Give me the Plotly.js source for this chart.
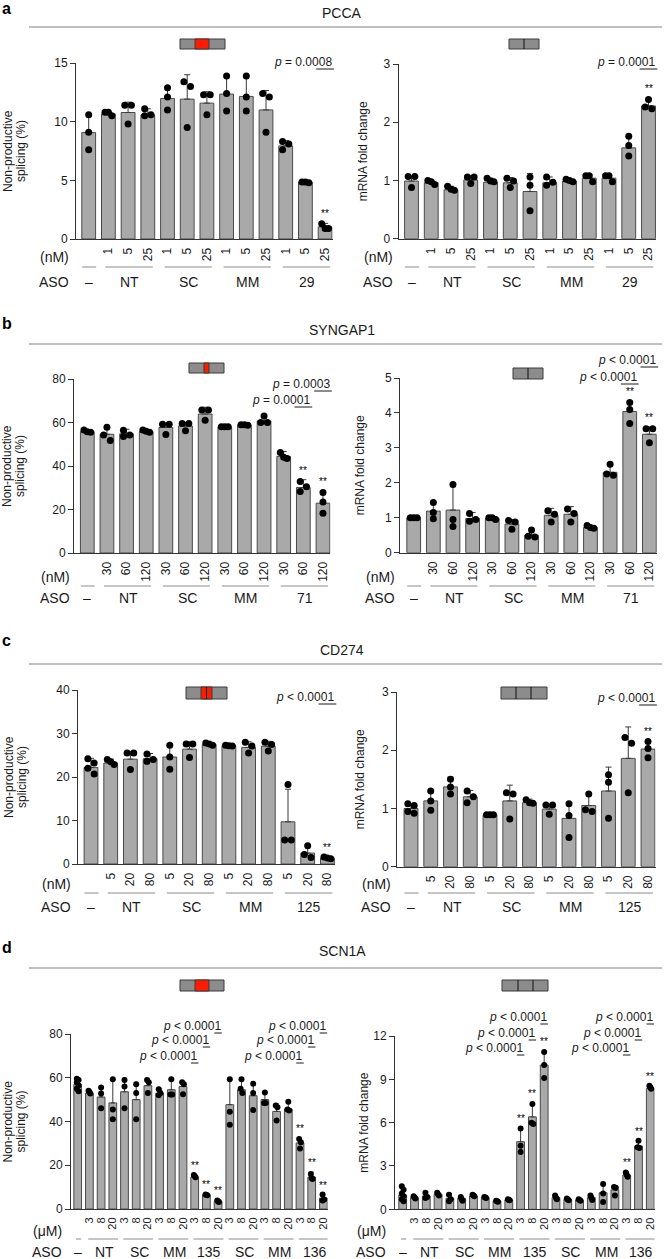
<!DOCTYPE html>
<html><head><meta charset="utf-8">
<script src="https://cdn.plot.ly/plotly-3.0.1.min.js"></script>
<style>html,body{margin:0;padding:0;background:#fff}</style>
</head><body><div id="chart" style="width:664px;height:1259px"></div>
<script>
// ---------------- DATA ----------------
const genes = ['PCCA', 'SYNGAP1', 'CD274', 'SCN1A'];
const sectionLetters = ['a', 'b', 'c', 'd'];
const spliceTitle = ['Non-productive', 'splicing (%)'];
const mrnaTitle = ['mRNA fold change'];
const unitNM = '(nM)';
const unitUM = '(\u03bcM)';

const PCCA_conc = ['', '1', '5', '25', '1', '5', '25', '1', '5', '25', '1', '5', '25'];
const PCCA_groups = ['NT', 'SC', 'MM', '29'];
const PCCA_splice_mean = [9.07, 10.66, 10.78, 10.58, 11.98, 11.92, 11.58, 12.35, 12.15, 11.0, 7.93, 4.85, 1.03];
const PCCA_splice_sd = [1.53, 0.14, 0.88, 0.52, 0.97, 2.08, 0.97, 1.55, 1.75, 1.66, 0.45, 0.05, 0.3];
const PCCA_splice_pts = [[10.6,9.1,7.6],[10.8,10.8,10.5],[11.4,11.4,9.8],[11.1,10.6,10.5],[12.9,12.1,11.0],[13.4,13.0,9.5],[12.3,12.3,10.6],[13.9,12.4,10.9],[13.9,12.1,10.9],[12.4,12.1,9.1],[8.3,8.1,7.6],[4.85,4.8,4.85],[1.3,0.9,0.9]];
const PCCA_splice_p = ['<i>p</i> = 0.0008'];
const PCCA_mrna_mean = [0.99, 0.96, 0.84, 1.01, 0.97, 0.96, 0.81, 0.96, 0.99, 1.04, 1.04, 1.56, 2.28];
const PCCA_mrna_sd = [0.08, 0.04, 0.06, 0.07, 0.07, 0.09, 0.31, 0.1, 0.03, 0.06, 0.06, 0.2, 0.13];
const PCCA_mrna_pts = [[1.07,1.07,0.88],[1.0,0.98,0.93],[0.9,0.85,0.83],[1.06,1.06,0.95],[1.04,0.99,0.98],[1.04,0.99,0.88],[1.06,0.92,0.48],[1.06,0.97,0.92],[1.02,1.0,0.98],[1.08,1.08,0.98],[1.08,1.08,0.98],[1.76,1.6,1.42],[2.39,2.26,2.23]];
const PCCA_mrna_p = ['<i>p</i> = 0.0001'];

const SYNGAP1_conc = ['', '30', '60', '120', '30', '60', '120', '30', '60', '120', '30', '60', '120'];
const SYNGAP1_groups = ['NT', 'SC', 'MM', '71'];
const SYNGAP1_splice_mean = [55.8, 54.6, 54.8, 55.8, 57.7, 58.4, 63.9, 58.0, 58.9, 60.7, 44.4, 30.1, 22.9];
const SYNGAP1_splice_sd = [0.7, 3.2, 2.1, 0.8, 2.0, 1.7, 3.1, 0.3, 0.3, 2.8, 2.3, 3.6, 5.4];
const SYNGAP1_splice_pts = [[56.5,55.5,55.8],[57.8,54.3,51.7],[56.4,54.3,53.6],[56.6,56.0,55.5],[59.2,59.2,54.5],[59.5,59.5,56.2],[65.8,65.8,61.0],[58,58,58],[59,59,58.7],[63,60,60],[46.2,44,43.5],[32.9,30.5,28.3],[27.8,23.5,18.3]];
const SYNGAP1_splice_p = ['<i>p</i> = 0.0003', '<i>p</i> = 0.0001'];
const SYNGAP1_mrna_mean = [1.0, 1.19, 1.22, 0.98, 0.98, 0.82, 0.5, 1.07, 1.1, 0.72, 2.3, 4.04, 3.39];
const SYNGAP1_mrna_sd = [0.0, 0.25, 0.76, 0.17, 0.02, 0.13, 0.17, 0.2, 0.22, 0.06, 0.27, 0.3, 0.21];
const SYNGAP1_mrna_pts = [[1,1,1],[1.44,1.15,0.97],[1.95,0.95,0.75],[1.12,0.95,0.9],[1.0,1.0,0.95],[0.92,0.88,0.67],[0.65,0.47,0.45],[1.2,1.1,0.88],[1.25,1.12,0.88],[0.78,0.72,0.7],[2.53,2.25,2.22],[4.3,4.1,3.7],[3.55,3.55,3.15]];
const SYNGAP1_mrna_p = ['<i>p</i> &lt; 0.0001', '<i>p</i> &lt; 0.0001'];

const CD274_conc = ['', '5', '20', '80', '5', '20', '80', '5', '20', '80', '5', '20', '80'];
const CD274_groups = ['NT', 'SC', 'MM', '125'];
const CD274_splice_mean = [22.2, 23.2, 24.1, 24.2, 24.6, 26.4, 27.5, 27.2, 26.8, 27.1, 9.7, 2.5, 1.4];
const CD274_splice_sd = [2.1, 0.9, 1.8, 1.2, 3.0, 1.7, 0.3, 0.2, 1.3, 1.1, 7.5, 1.9, 0.2];
const CD274_splice_pts = [[24.2,23.2,22.0,20.7],[24.0,23.5,22.9],[25.5,25.5,21.7],[25.3,24.0,23.6],[27.3,24.6,21.8],[27.6,27.6,24.5],[27.8,27.6,27.3],[27.3,27.2,27.1],[28,27.1,25.5],[28,27.5,26],[18.3,5.5,5.5],[4.2,2.2,1.5],[1.6,1.4,1.2]];
const CD274_splice_p = ['<i>p</i> &lt; 0.0001'];
const CD274_mrna_mean = [1.0, 1.13, 1.37, 1.2, 0.89, 1.13, 1.1, 0.99, 0.83, 1.05, 1.3, 1.86, 2.02];
const CD274_mrna_sd = [0.06, 0.17, 0.17, 0.11, 0.01, 0.27, 0.06, 0.08, 0.27, 0.22, 0.41, 0.54, 0.14];
const CD274_mrna_pts = [[1.08,1.05,0.95,0.92],[1.3,1.13,0.97],[1.5,1.37,1.25],[1.3,1.2,1.1],[0.89,0.89,0.89],[1.27,1.25,0.82],[1.15,1.1,1.09],[1.06,1.06,0.9],[1.08,0.88,0.5],[1.25,0.98,0.95],[1.58,1.45,0.83],[2.22,2.12,1.27],[2.15,2.03,1.87]];
const CD274_mrna_p = ['<i>p</i> &lt; 0.0001'];

const SCN1A_conc = ['', '3','8','20','3','8','20','3','8','20','3','8','20','3','8','20','3','8','20','3','8','20'];
const SCN1A_groups = ['NT', 'SC', 'MM', '135', 'SC', 'MM', '136'];
const SCN1A_splice_mean = [57.0, 53.0, 51.2, 48.5, 53.6, 50.0, 56.4, 53.0, 54.5, 56.0, 14.6, 6.5, 3.5, 47.7, 54.5, 51.8, 50.0, 44.6, 45.7, 30.2, 14.6, 5.0];
const SCN1A_splice_sd = [2.9, 0.6, 4.1, 10.6, 6.3, 7.9, 3.0, 2.0, 4.6, 1.9, 0.9, 0.2, 0.4, 11.7, 4.9, 6.1, 3.3, 3.6, 4.0, 2.1, 2.2, 1.6];
const SCN1A_splice_pts = [[59.6,59.0,58.0,56.5,55.0,53.8],[54,53.5,52.8],[55.5,52.8,46],[59.3,45.5,41],[59,56,46],[57,53,41],[59,58,53],[54.8,53,52],[59.3,52.3,52.3],[58,57,52.5],[15.5,15,14.5],[6.6,6.4,6.3],[3.9,3.4,3.2],[59.3,44.5,38.5],[59.3,55,53],[57.3,53,45.2],[53.3,48.5,48.5],[47.3,46.5,40.5],[49,45.5,45],[32,30.5,27.6],[16,14,13.7],[6.6,4.3,3.9]];
const SCN1A_splice_p = ['<i>p</i> &lt; 0.0001','<i>p</i> &lt; 0.0001','<i>p</i> &lt; 0.0001','<i>p</i> &lt; 0.0001','<i>p</i> &lt; 0.0001','<i>p</i> &lt; 0.0001'];
const SCN1A_mrna_mean = [0.99, 0.81, 0.92, 1.04, 0.76, 0.76, 0.92, 0.81, 0.58, 0.65, 4.68, 6.4, 9.99, 0.81, 0.69, 0.65, 0.81, 1.15, 1.34, 2.38, 4.38, 8.38];
const SCN1A_mrna_sd = [0.45, 0.09, 0.3, 0.11, 0.34, 0.09, 0.08, 0.04, 0.02, 0.05, 0.92, 0.97, 0.99, 0.14, 0.06, 0.05, 0.14, 0.7, 0.26, 0.22, 0.37, 0.17];
const SCN1A_mrna_pts = [[1.6,1.35,1.1,0.9,0.7,0.55],[0.9,0.82,0.75],[1.15,0.85,0.78],[1.15,1.05,0.95],[1.0,0.7,0.55],[0.85,0.7,0.6],[1.0,0.95,0.9],[0.85,0.82,0.78],[0.6,0.55,0.52],[0.7,0.65,0.62],[5.6,4.4,3.97],[7.3,6.0,5.9],[10.9,10.0,9.1],[0.95,0.8,0.7],[0.75,0.68,0.62],[0.7,0.65,0.6],[0.95,0.8,0.65],[1.75,1.1,0.5],[1.55,1.5,0.95],[2.55,2.4,2.25],[4.75,4.3,4.25],[8.55,8.45,8.35]];
const SCN1A_mrna_p = ['<i>p</i> &lt; 0.0001','<i>p</i> &lt; 0.0001','<i>p</i> &lt; 0.0001','<i>p</i> &lt; 0.0001','<i>p</i> &lt; 0.0001','<i>p</i> &lt; 0.0001'];

// ---------------- LAYOUT CONFIG ----------------
const W = 664, H = 1259;
const PX = x => x / W, PY = y => 1 - y / H;
const FONT = 'Liberation Sans, Arial, Helvetica, sans-serif';
const TXT = '#1a1a1a';

const sections = [
  {letterY: 9, titleY: 13, lineY: 27},
  {letterY: 323, titleY: 330, lineY: 344},
  {letterY: 640, titleY: 650, lineY: 664},
  {letterY: 947, titleY: 951, lineY: 968}
];

const panels = [
  {sec:0, mean:PCCA_splice_mean, sd:PCCA_splice_sd, pts:PCCA_splice_pts, conc:PCCA_conc, groups:PCCA_groups, unit:unitNM, title:spliceTitle,
   ymax:15, ytick:[0,5,10,15], axisX:76, c0:88.7, sp:19.7, top:63, bottom:239, titleX:[8,21], unitY:257, lineY:267, asoY:282, labX:71,
   stars:[12], p:PCCA_splice_p, pv:[{bar:12,y:62}], gene:{x0:180,x1:225,y0:39,y1:49,red:[[195,209]],div:[]}},
  {sec:0, mean:PCCA_mrna_mean, sd:PCCA_mrna_sd, pts:PCCA_mrna_pts, conc:PCCA_conc, groups:PCCA_groups, unit:unitNM, title:mrnaTitle,
   ymax:3, ytick:[0,1,2,3], axisX:398.7, c0:411.5, sp:19.75, top:64, bottom:238.7, titleX:[363], unitY:257, lineY:267, asoY:282, labX:395,
   stars:[12], p:PCCA_mrna_p, pv:[{bar:12,y:62}], gene:{x0:509,x1:539,y0:39,y1:49,red:[],div:[524]}},
  {sec:1, mean:SYNGAP1_splice_mean, sd:SYNGAP1_splice_sd, pts:SYNGAP1_splice_pts, conc:SYNGAP1_conc, groups:SYNGAP1_groups, unit:unitNM, title:spliceTitle,
   ymax:80, ytick:[0,20,40,60,80], axisX:74, c0:87.3, sp:19.64, top:379, bottom:553, titleX:[7,20], unitY:577, lineY:586, asoY:598, labX:72,
   stars:[11,12], p:SYNGAP1_splice_p, pv:[{bar:12,y:384},{bar:11,y:400}], gene:{x0:189,x1:224,y0:363,y1:373,red:[[204,209]],div:[]}},
  {sec:1, mean:SYNGAP1_mrna_mean, sd:SYNGAP1_mrna_sd, pts:SYNGAP1_mrna_pts, conc:SYNGAP1_conc, groups:SYNGAP1_groups, unit:unitNM, title:mrnaTitle,
   ymax:5, ytick:[0,1,2,3,4,5], axisX:400, c0:413.7, sp:19.64, top:378, bottom:552.7, titleX:[360], unitY:577, lineY:586, asoY:598, labX:397,
   stars:[11,12], p:SYNGAP1_mrna_p, pv:[{bar:12,y:360},{bar:11,y:377}], gene:{x0:513,x1:543,y0:368,y1:379,red:[],div:[528]}},
  {sec:2, mean:CD274_splice_mean, sd:CD274_splice_sd, pts:CD274_splice_pts, conc:CD274_conc, groups:CD274_groups, unit:unitNM, title:spliceTitle,
   ymax:40, ytick:[0,10,20,30,40], axisX:78, c0:91, sp:19.7, top:690, bottom:864, titleX:[9,22], unitY:884, lineY:893, asoY:907, labX:73,
   stars:[12], p:CD274_splice_p, pv:[{bar:12,y:697}], gene:{x0:186,x1:227,y0:687,y1:699,red:[[201,212]],div:[206.5]}},
  {sec:2, mean:CD274_mrna_mean, sd:CD274_mrna_sd, pts:CD274_mrna_pts, conc:CD274_conc, groups:CD274_groups, unit:unitNM, title:mrnaTitle,
   ymax:3, ytick:[0,1,2,3], axisX:397, c0:411, sp:19.75, top:692, bottom:866.7, titleX:[360], unitY:884, lineY:893, asoY:907, labX:393,
   stars:[12], p:CD274_mrna_p, pv:[{bar:12,y:698}], gene:{x0:501,x1:547,y0:687,y1:699,red:[],div:[516,531]}},
  {sec:3, mean:SCN1A_splice_mean, sd:SCN1A_splice_sd, pts:SCN1A_splice_pts, conc:SCN1A_conc, groups:SCN1A_groups, unit:unitUM, title:spliceTitle,
   ymax:80, ytick:[0,20,40,60,80], axisX:71, c0:77.7, sp:11.7, top:1034, bottom:1209, titleX:[7,20], unitY:1231, lineY:1239, asoY:1252, labX:64, small:true,
   stars:[10,11,12,19,20,21], p:SCN1A_splice_p, pv:[{bar:12,y:1026},{bar:11,y:1040},{bar:10,y:1056},{bar:21,y:1026},{bar:20,y:1040},{bar:19,y:1056}],
   gene:{x0:180,x1:224,y0:980,y1:991,red:[[195,209]],div:[]}},
  {sec:3, mean:SCN1A_mrna_mean, sd:SCN1A_mrna_sd, pts:SCN1A_mrna_pts, conc:SCN1A_conc, groups:SCN1A_groups, unit:unitUM, title:mrnaTitle,
   ymax:12, ytick:[0,3,6,9,12], axisX:395, c0:402.7, sp:11.79, top:1036, bottom:1209.3, titleX:[364], unitY:1231, lineY:1239, asoY:1252, labX:388, small:true,
   stars:[10,11,12,19,20,21], p:SCN1A_mrna_p, pv:[{bar:12,y:1017},{bar:11,y:1033},{bar:10,y:1048},{bar:21,y:1017},{bar:20,y:1033},{bar:19,y:1048}],
   gene:{x0:502,x1:548,y0:980,y1:991,red:[],div:[518,533]}}
];

// beeswarm-like horizontal spreading of replicate dots (pixel based)
function swarm(vals, pxPerUnit, d, maxOff) {
  const idx = vals.map((v, i) => i).sort((a, b) => vals[b] - vals[a]);
  const off = new Array(vals.length).fill(0);
  let clusters = [], cur = [idx[0]];
  for (let k = 1; k < idx.length; k++) {
    const prev = cur[cur.length - 1];
    if (Math.abs(vals[prev] - vals[idx[k]]) * pxPerUnit < d * 0.85) cur.push(idx[k]);
    else { clusters.push(cur); cur = [idx[k]]; }
  }
  clusters.push(cur);
  clusters.forEach(c => {
    if (c.length < 2) return;
    const span = Math.abs(vals[c[0]] - vals[c[c.length - 1]]) * pxPerUnit;
    if (span < d * 0.85) {
      const step = Math.min(d * 0.95, (2 * maxOff) / (c.length - 1));
      c.forEach((i, j) => off[i] = (j - (c.length - 1) / 2) * step);
    } else {
      const o = Math.min(d * 0.45, maxOff);
      c.forEach((i, j) => off[i] = (j % 2 === 0 ? -1 : 1) * o);
    }
  });
  return off;
}

const traces = [];
const layout = {
  width: W, height: H, margin: {l: 0, r: 0, t: 0, b: 0},
  paper_bgcolor: '#fff', plot_bgcolor: 'rgba(0,0,0,0)',
  showlegend: false, font: {family: FONT, color: TXT, size: 12},
  annotations: [], shapes: []
};
const A = layout.annotations, S = layout.shapes;

sections.forEach((s, i) => {
  A.push({text: '<b>' + sectionLetters[i] + '</b>', xref: 'paper', yref: 'paper', x: PX(7), y: PY(s.letterY), xanchor: 'center', yanchor: 'middle', showarrow: false, font: {size: 16, color: '#000'}});
  A.push({text: genes[i], xref: 'paper', yref: 'paper', x: PX(342), y: PY(s.titleY), xanchor: 'center', yanchor: 'middle', showarrow: false, font: {size: 14, color: TXT}});
  S.push({type: 'line', xref: 'paper', yref: 'paper', x0: PX(29), x1: PX(662), y0: PY(s.lineY), y1: PY(s.lineY), line: {color: '#808080', width: 1}});
});

panels.forEach((p, k) => {
  const n = p.mean.length;
  const xr = k === 0 ? 'x' : 'x' + (k + 1), yr = k === 0 ? 'y' : 'y' + (k + 1);
  const xa = k === 0 ? 'xaxis' : 'xaxis' + (k + 1), ya = k === 0 ? 'yaxis' : 'yaxis' + (k + 1);
  const bw = p.small ? 0.66 : 0.7;
  const ms = p.small ? 6 : 7;
  const x0 = -(p.c0 - p.axisX) / p.sp, x1 = n - 1 + bw / 2 + 0.03;
  const rightPx = p.c0 + x1 * p.sp;
  const barPx = i => p.c0 + i * p.sp;
  const idx = p.mean.map((v, i) => i);
  layout[xa] = {domain: [PX(p.axisX), PX(rightPx)], range: [x0, x1], anchor: yr, showline: true, linecolor: '#333', linewidth: 1,
    ticks: '', showgrid: false, zeroline: false, tickmode: 'array', tickvals: idx.slice(1), ticktext: p.conc.slice(1),
    tickangle: -90, tickfont: {size: p.small ? 11 : 12, color: TXT}, ticklabelstandoff: 3, fixedrange: true};
  layout[ya] = {domain: [PY(p.bottom), PY(p.top)], range: [0, p.ymax], anchor: xr, showline: true, linecolor: '#333', linewidth: 1,
    ticks: 'outside', ticklen: 5, tickwidth: 1, tickcolor: '#333', tickmode: 'array', tickvals: p.ytick,
    tickfont: {size: 12, color: TXT}, showgrid: false, zeroline: false, fixedrange: true};

  traces.push({type: 'bar', x: idx, y: p.mean, xaxis: xr, yaxis: yr, width: bw,
    marker: {color: '#a9a9a9', line: {color: '#4a4a4a', width: 1}},
    error_y: {type: 'data', symmetric: false, array: p.sd, arrayminus: p.sd.map(() => 0), color: '#3a3a3a', thickness: 1, width: p.small ? 2 : 3},
    hoverinfo: 'skip'});

  const pxPerUnit = (p.bottom - p.top) / p.ymax;
  const dx = [], dy = [];
  p.pts.forEach((vals, i) => {
    const off = swarm(vals, pxPerUnit, ms, bw * p.sp / 2 - ms / 2);
    vals.forEach((v, j) => { dx.push(i + off[j] / p.sp); dy.push(v); });
  });
  traces.push({type: 'scatter', mode: 'markers', x: dx, y: dy, xaxis: xr, yaxis: yr,
    marker: {color: '#000', size: ms, line: {width: 0}}, hoverinfo: 'skip', cliponaxis: false});

  // asterisks
  p.stars.forEach(b => {
    const top = Math.max(p.mean[b] + p.sd[b], ...p.pts[b]);
    A.push({text: '**', xref: xr, yref: yr, x: b, y: top, xanchor: 'center', yanchor: 'bottom', yshift: 2, showarrow: false, font: {size: 10, color: '#000'}});
  });

  // p values (text in paper coords so it is never dropped beyond the axis range)
  const tOff = p.small ? 0.38 : 0.45, uOff = p.small ? 0.32 : 0.45;
  p.pv.forEach((q, j) => {
    A.push({text: p.p[j], xref: 'paper', yref: 'paper', x: PX(barPx(q.bar + tOff)), y: PY(q.y), xanchor: 'right', yanchor: 'middle', showarrow: false, font: {size: 12, color: TXT}});
    S.push({type: 'line', xref: 'paper', yref: 'paper', x0: PX(barPx(q.bar - uOff)), x1: PX(barPx(q.bar + uOff)), y0: PY(q.y + 7), y1: PY(q.y + 7), line: {color: TXT, width: 1}});
  });

  // y-axis title (one annotation per line)
  p.title.forEach((t, j) => {
    A.push({text: t, xref: 'paper', yref: 'paper', x: PX(p.titleX[j]), y: PY((p.top + p.bottom) / 2), textangle: -90,
      xanchor: 'center', yanchor: 'middle', showarrow: false, font: {size: 12, color: TXT}});
  });

  // unit and ASO row labels
  A.push({text: p.unit, xref: 'paper', yref: 'paper', x: PX(p.labX), y: PY(p.unitY), xanchor: 'right', yanchor: 'middle', showarrow: false, font: {size: 14, color: TXT}});
  A.push({text: 'ASO', xref: 'paper', yref: 'paper', x: PX(p.labX), y: PY(p.asoY), xanchor: 'right', yanchor: 'middle', showarrow: false, font: {size: 14, color: TXT}});
  A.push({text: '\u2013', xref: xr, yref: 'paper', x: 0, y: PY(p.asoY), xanchor: 'center', yanchor: 'middle', showarrow: false, font: {size: 14, color: TXT}});
  const gl = p.small ? [-0.1, 0.45] : [-0.15, 0.25];
  const gc = p.small ? 0.25 : 0.08;
  S.push({type: 'line', xref: xr, yref: 'paper', x0: p.small ? -0.15 : -0.33, x1: p.small ? 0.3 : 0.38, y0: PY(p.lineY), y1: PY(p.lineY), line: {color: '#8c8c8c', width: 1}});
  p.groups.forEach((g, j) => {
    const first = 1 + j * 3, last = first + 2;
    S.push({type: 'line', xref: xr, yref: 'paper', x0: first + gl[0], x1: last + gl[1], y0: PY(p.lineY), y1: PY(p.lineY), line: {color: '#8c8c8c', width: 1}});
    A.push({text: g, xref: xr, yref: 'paper', x: first + 1 + gc, y: PY(p.asoY), xanchor: 'center', yanchor: 'middle', showarrow: false, font: {size: 14, color: TXT}});
  });

  // gene diagram
  const gd = p.gene;
  S.push({type: 'rect', xref: 'paper', yref: 'paper', x0: PX(gd.x0), x1: PX(gd.x1), y0: PY(gd.y1), y1: PY(gd.y0), fillcolor: '#8c8c8c', line: {color: '#3a3a3a', width: 1}});
  gd.red.forEach(r => S.push({type: 'rect', xref: 'paper', yref: 'paper', x0: PX(r[0]), x1: PX(r[1]), y0: PY(gd.y1), y1: PY(gd.y0), fillcolor: '#ff1a00', line: {color: '#3a3a3a', width: 1}}));
  gd.div.forEach(d => S.push({type: 'line', xref: 'paper', yref: 'paper', x0: PX(d), x1: PX(d), y0: PY(gd.y1), y1: PY(gd.y0), line: {color: '#111', width: 1}}));
});

Plotly.newPlot('chart', traces, layout, {staticPlot: true, displayModeBar: false});
</script>
</body></html>
